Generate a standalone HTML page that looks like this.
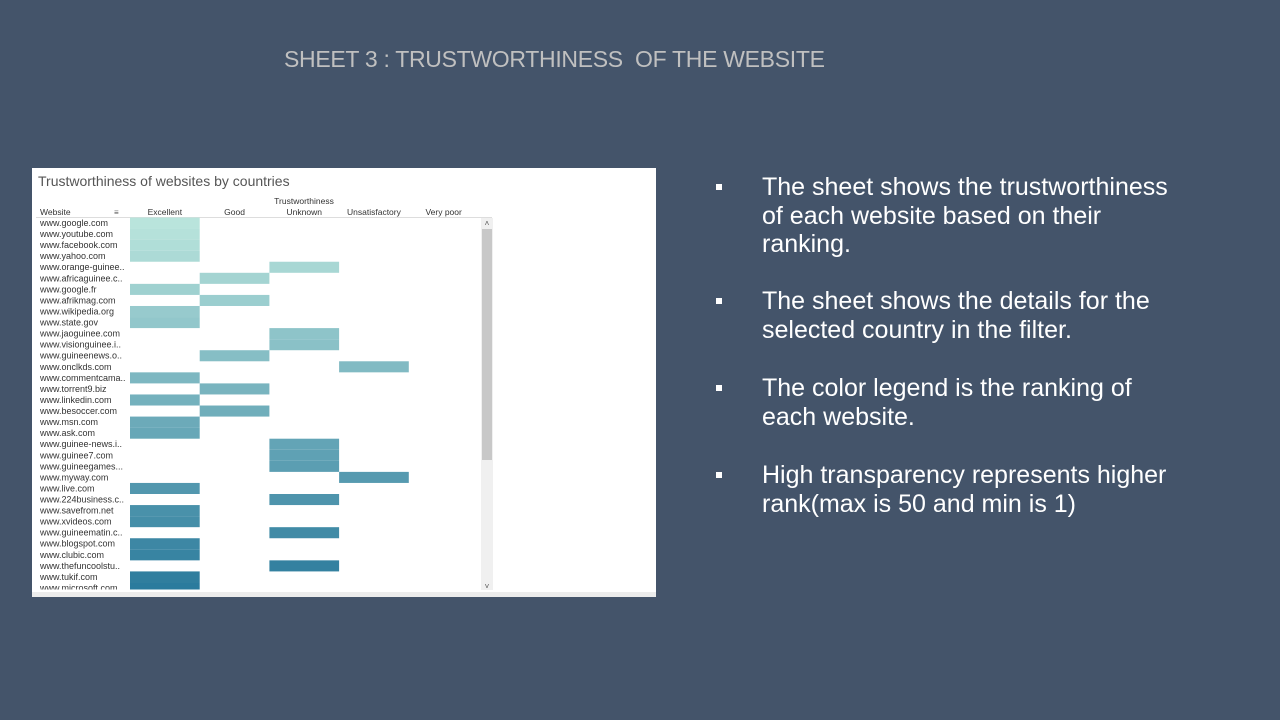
<!DOCTYPE html>
<html><head><meta charset="utf-8">
<style>
body{margin:0;width:1280px;height:720px;background:#44546a;position:relative;overflow:hidden;font-family:"Liberation Sans",sans-serif}
#title{position:absolute;left:284px;top:46px;width:560px;font-size:23px;color:#c0c0c0;white-space:nowrap;letter-spacing:-0.3px}
.para{position:absolute;left:762px;width:500px;font-size:25px;line-height:28.6px;color:#fff;white-space:nowrap}
.bul{position:absolute;left:-46px;top:11px;width:6px;height:6px;background:#fff}
#panel{position:absolute;left:32px;top:168px;width:624px;height:429px;background:#fff}
</style></head><body>
<div id="title">SHEET 3 : TRUSTWORTHINESS&nbsp; OF THE WEBSITE</div>
<div class="para" style="top:173px"><span class="bul"></span>The sheet shows the trustworthiness<br>of each website based on their<br>ranking.</div>
<div class="para" style="top:287px"><span class="bul"></span>The sheet shows the details for the<br>selected country in the filter.</div>
<div class="para" style="top:374px"><span class="bul"></span>The color legend is the ranking of<br>each website.</div>
<div class="para" style="top:461px"><span class="bul"></span>High transparency represents higher<br>rank(max is 50 and min is 1)</div>
<div id="panel">
<svg id="chart" width="624" height="429" xmlns="http://www.w3.org/2000/svg" font-family="Liberation Sans, sans-serif"></svg>
</div>
<script>
const websites=["www.google.com","www.youtube.com","www.facebook.com","www.yahoo.com","www.orange-guinee..","www.africaguinee.c..","www.google.fr","www.afrikmag.com","www.wikipedia.org","www.state.gov","www.jaoguinee.com","www.visionguinee.i..","www.guineenews.o..","www.onclkds.com","www.commentcama..","www.torrent9.biz","www.linkedin.com","www.besoccer.com","www.msn.com","www.ask.com","www.guinee-news.i..","www.guinee7.com","www.guineegames...","www.myway.com","www.live.com","www.224business.c..","www.savefrom.net","www.xvideos.com","www.guineematin.c..","www.blogspot.com","www.clubic.com","www.thefuncoolstu..","www.tukif.com","www.microsoft.com"];
const categories=["Excellent","Good","Unknown","Unsatisfactory","Very poor"];
const trust=["Excellent","Excellent","Excellent","Excellent","Unknown","Good","Excellent","Good","Excellent","Excellent","Unknown","Unknown","Good","Unsatisfactory","Excellent","Good","Excellent","Good","Excellent","Excellent","Unknown","Unknown","Unknown","Unsatisfactory","Excellent","Unknown","Excellent","Excellent","Unknown","Excellent","Excellent","Unknown","Excellent","Excellent"];
const ranks=[1,2,3,4,5,6,7,8,9,10,11,12,13,14,15,16,17,18,19,20,21,22,23,24,25,26,27,28,29,30,31,32,33,34];
const NS="http://www.w3.org/2000/svg";
const svg=document.getElementById('chart');
function mk(t,a,p){const e=document.createElementNS(NS,t);for(const k in a)e.setAttribute(k,a[k]);(p||svg).appendChild(e);return e;}
const colX=98, colW=69.7, rowY=49.5, rowH=11.06;
const xPos=c=>colX+categories.indexOf(c)*colW;
const yPos=i=>rowY+i*rowH;
function color(r){const t=(r-1)/49;const a=[185,228,220],b=[40,120,155];const k=Math.min(1,t*1.45);return `rgb(${a.map((v,i)=>Math.round(v+(b[i]-v)*k)).join(',')})`;}
let tt=mk('text',{x:6,y:18,'font-size':14,fill:'#555'});tt.textContent="Trustworthiness of websites by countries";


let h=mk('text',{x:272,y:36,'font-size':8.5,fill:'#333','text-anchor':'middle'});h.textContent="Trustworthiness";


let w=mk('text',{x:8,y:47,'font-size':8.5,fill:'#333'});w.textContent="Website";


let s=mk('text',{x:82,y:47,'font-size':8,fill:'#555'});s.textContent="≡";


categories.forEach((c,i)=>{const e=mk('text',{x:colX+i*colW+colW/2,y:47,'font-size':8.5,fill:'#333','text-anchor':'middle'});e.textContent=c;

});
mk('line',{x1:4,x2:460,y1:49.5,y2:49.5,stroke:'#ddd','stroke-width':1});
const g=mk('g',{'clip-path':'url(#cp)'});
const cp=mk('clipPath',{id:'cp'});mk('rect',{x:0,y:49.5,width:460,height:372},cp);
websites.forEach((name,i)=>{
 const l=mk('text',{x:8,y:yPos(i)+8.5,'font-size':9,fill:'#333'},g);l.textContent=name;
 
 
 const r=mk('rect',{x:xPos(trust[i]),y:yPos(i),width:colW,height:rowH,fill:color(ranks[i])},g);
 
 
});
const tr=mk('rect',{x:449,y:50,width:12,height:372,fill:'#f0f0f0'});


const th=mk('rect',{x:450,y:61,width:10,height:231,fill:'#c8c8c8'});


let u=mk('text',{x:455,y:58,'font-size':8,fill:'#555','text-anchor':'middle'});u.textContent="˄";
let d=mk('text',{x:455,y:421,'font-size':8,fill:'#555','text-anchor':'middle'});d.textContent="˅";
mk('rect',{x:0,y:424,width:624,height:5,fill:'#ececec'});
</script>
</body></html>
